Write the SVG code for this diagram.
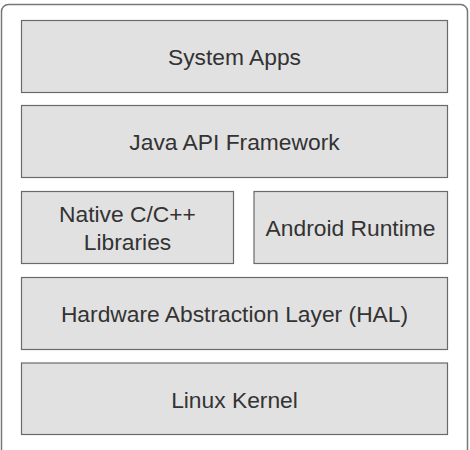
<svg xmlns="http://www.w3.org/2000/svg" width="470" height="450" viewBox="0 0 470 450">
<style>
.box{fill:#e1e1e1;stroke:#6a6a6a;stroke-width:1.2}
.lbl{font-family:"Liberation Sans",Arial,sans-serif;font-size:22.8px;fill:#333;text-anchor:middle;dominant-baseline:central}
</style>
<rect x="0" y="0" width="470" height="450" fill="#fff"/>
<rect x="1.5" y="4.5" width="466" height="470" rx="7" fill="#fff" stroke="#777" stroke-width="1.5"/>
<g id="system-apps"><rect class="box" x="21.5" y="20.5" width="426" height="72"/><text class="lbl" x="234.5" y="57">System Apps</text></g>
<g id="java-api"><rect class="box" x="21.5" y="105.5" width="426" height="72"/><text class="lbl" x="234.5" y="142">Java API Framework</text></g>
<g id="native-libs"><rect class="box" x="21.5" y="191.5" width="212" height="72"/><text class="lbl" x="127.5" y="214">Native C/C++</text><text class="lbl" x="127.5" y="242">Libraries</text></g>
<g id="android-runtime"><rect class="box" x="254" y="191.5" width="193.5" height="72"/><text class="lbl" x="350.5" y="228">Android Runtime</text></g>
<g id="hal"><rect class="box" x="21.5" y="277.5" width="426" height="72"/><text class="lbl" x="234.5" y="314">Hardware Abstraction Layer (HAL)</text></g>
<g id="linux-kernel"><rect class="box" x="21.5" y="363" width="426" height="71.5"/><text class="lbl" x="234.5" y="400">Linux Kernel</text></g>
<g id="connectors"></g>
</svg>
